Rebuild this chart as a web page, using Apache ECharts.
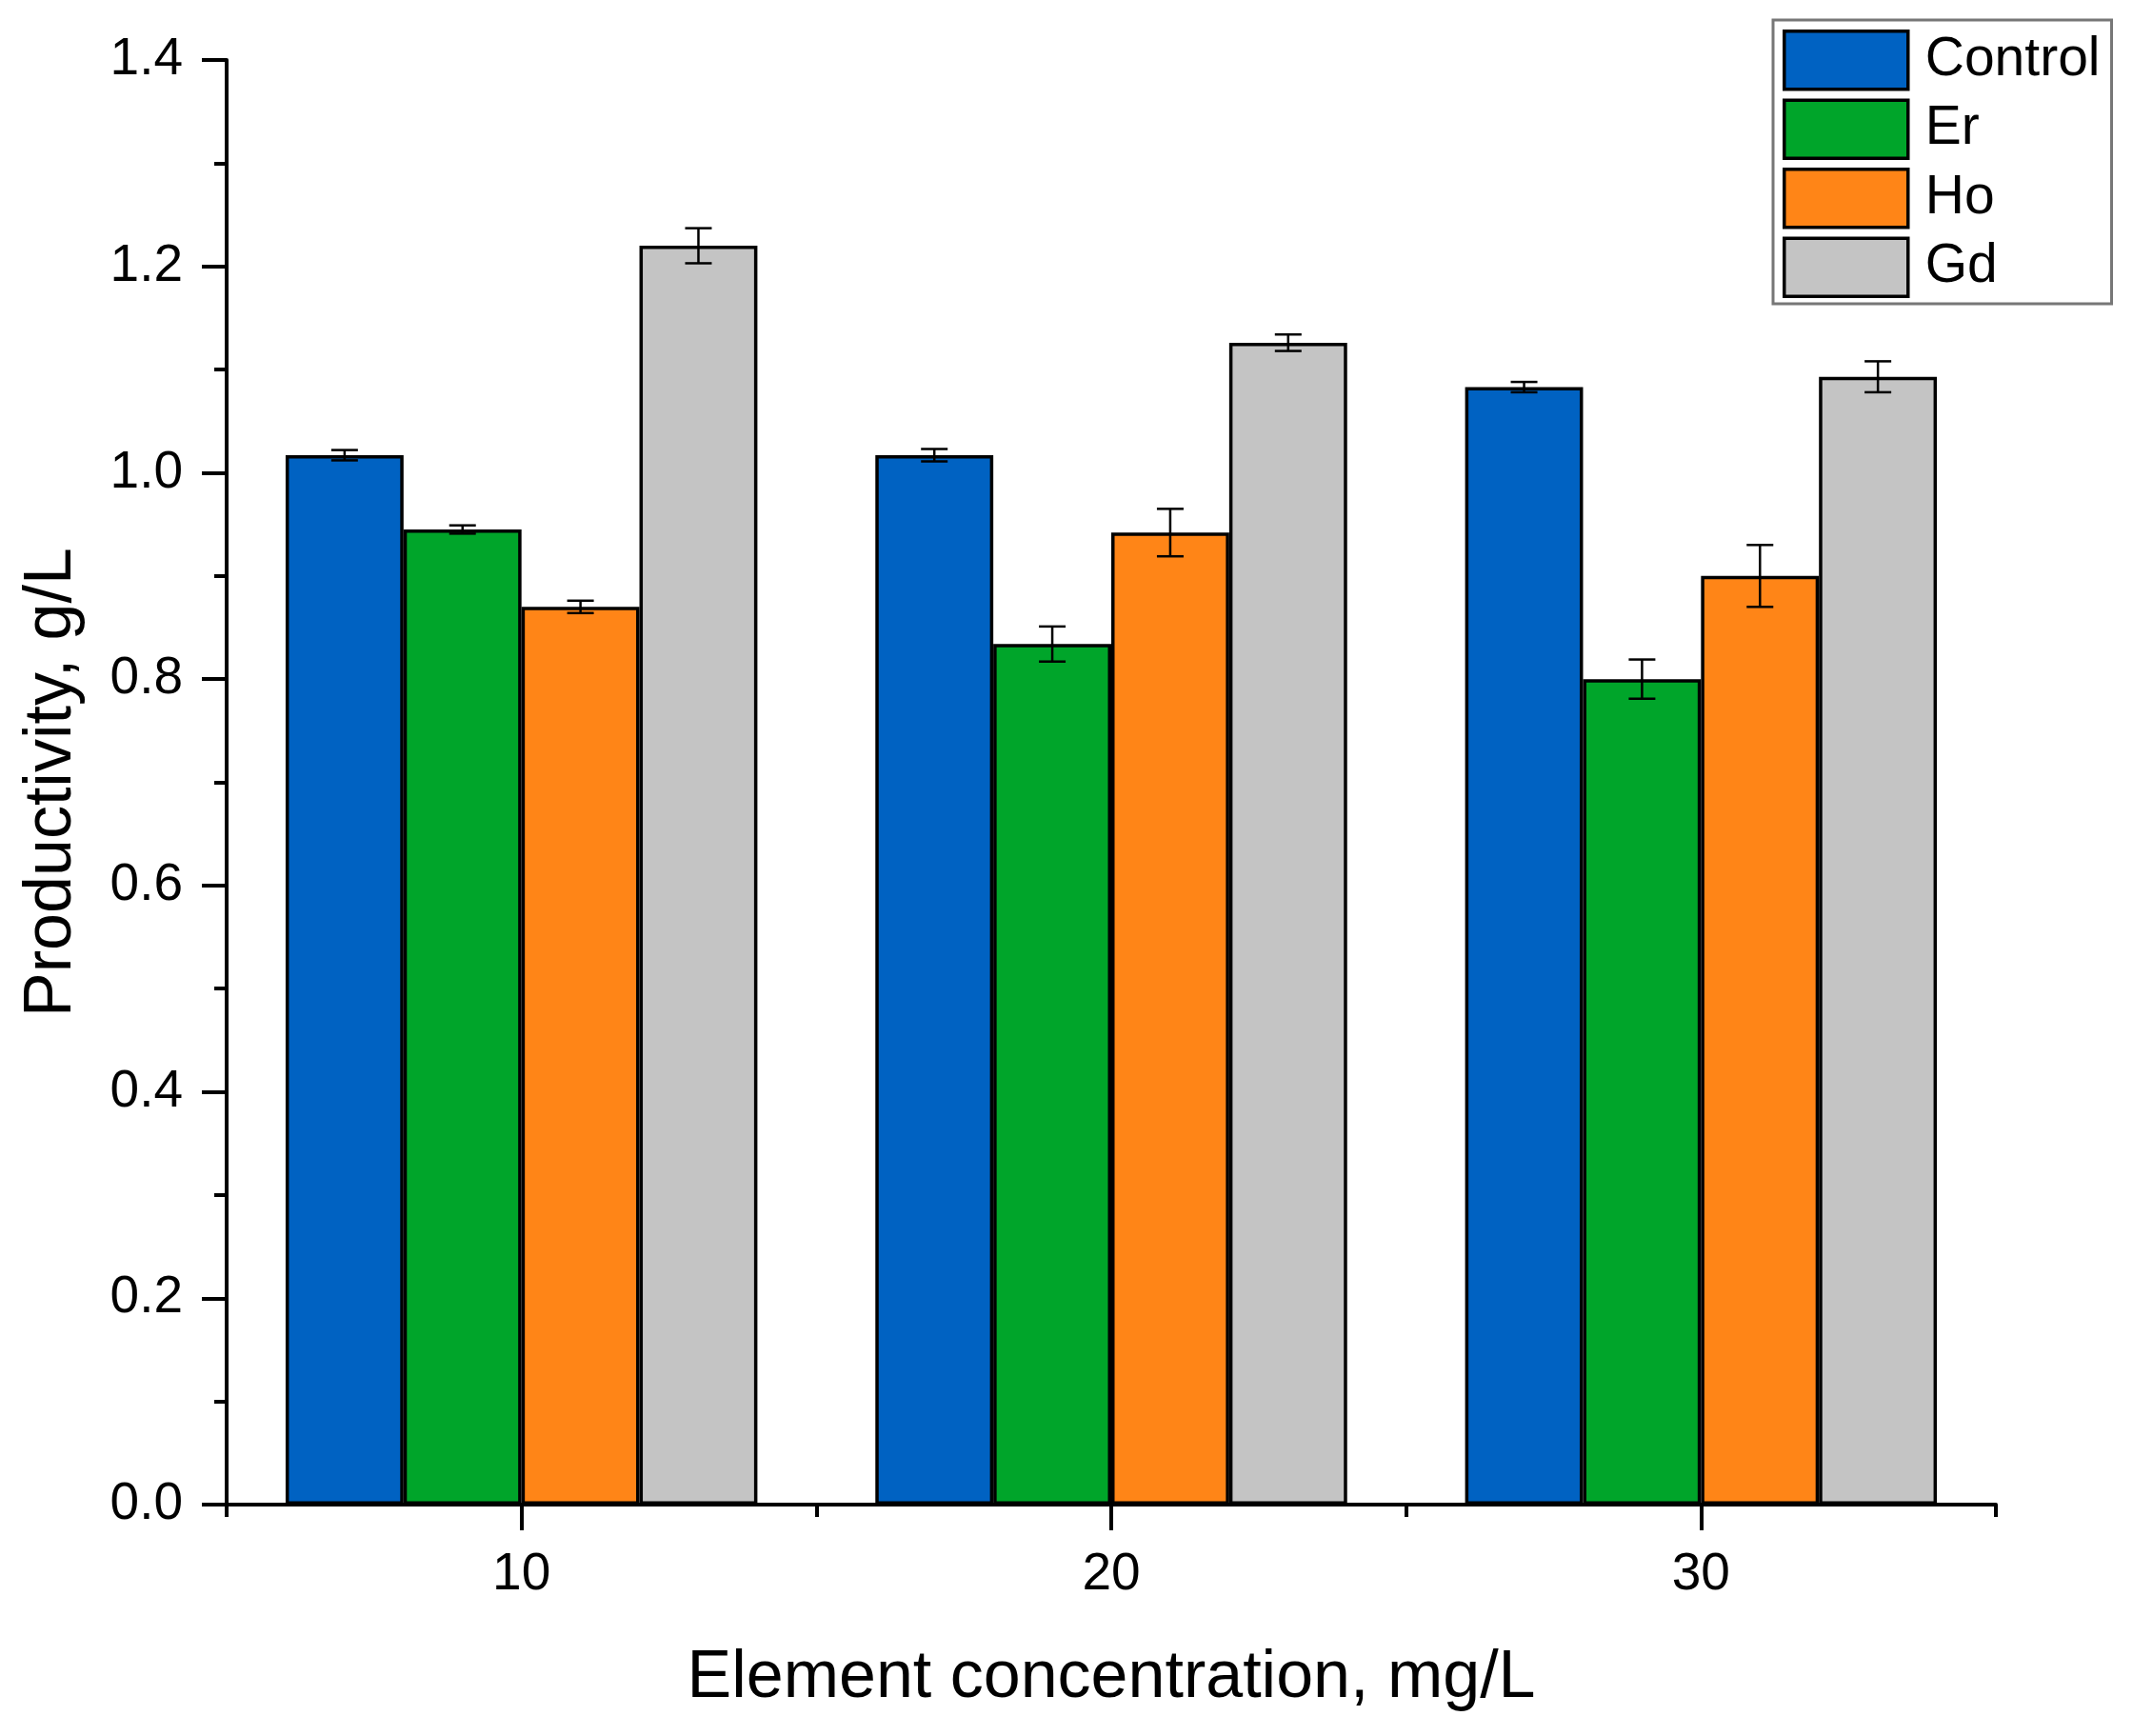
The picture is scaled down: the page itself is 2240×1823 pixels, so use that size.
<!DOCTYPE html>
<html>
<head>
<meta charset="utf-8">
<style>
  html, body { margin: 0; padding: 0; background: #fff; }
  #chart { width: 2240px; height: 1823px; }
</style>
<script src="https://cdn.jsdelivr.net/npm/echarts@6/dist/echarts.min.js"></script>
</head>
<body>
<div id="chart"></div>
<script>
// ---- data ----
const categories = ['10', '20', '30'];
const seriesNames = ['Control', 'Er', 'Ho', 'Gd'];
const controlValues = [1.017, 1.017, 1.083];
const controlErrors = [0.005, 0.006, 0.005];
const erValues = [0.945, 0.834, 0.800];
const erErrors = [0.004, 0.017, 0.019];
const hoValues = [0.870, 0.942, 0.900];
const hoErrors = [0.006, 0.023, 0.030];
const gdValues = [1.220, 1.126, 1.093];
const gdErrors = [0.017, 0.008, 0.015];
const yTicks = { min: 0, max: 1.4, interval: 0.2 };

const colors = ['#0062C2', '#00A52A', '#FF8517', '#C4C4C4'];
const allValues = [controlValues, erValues, hoValues, gdValues];
const allErrors = [controlErrors, erErrors, hoErrors, gdErrors];

const FONT = '"Liberation Sans", Arial, sans-serif';
const nBars = seriesNames.length;
const catGap = 0.2;

function errorRender(idx) {
  return function (params, api) {
    const cat = api.value(0);
    const mean = api.value(1);
    const err = api.value(2);
    const band = api.size([1, 0])[0];
    const barW = band * (1 - catGap) / nBars;
    const cx = api.coord([cat, mean])[0] + (idx - (nBars - 1) / 2) * barW;
    const yTop = api.coord([cat, mean + err])[1];
    const yBot = api.coord([cat, mean - err])[1];
    const cap = 14;
    const st = { stroke: '#000', lineWidth: 2.5 };
    return {
      type: 'group',
      children: [
        { type: 'line', shape: { x1: cx, y1: yTop, x2: cx, y2: yBot }, style: st },
        { type: 'line', shape: { x1: cx - cap, y1: yTop, x2: cx + cap, y2: yTop }, style: st },
        { type: 'line', shape: { x1: cx - cap, y1: yBot, x2: cx + cap, y2: yBot }, style: st }
      ]
    };
  };
}

const series = [];
seriesNames.forEach(function (name, i) {
  series.push({
    name: name,
    type: 'bar',
    xAxisIndex: 0,
    data: allValues[i],
    barGap: '0%',
    barCategoryGap: (catGap * 100) + '%',
    itemStyle: { color: colors[i], borderColor: '#000', borderWidth: 3.5 },
    z: 2
  });
});
seriesNames.forEach(function (name, i) {
  series.push({
    name: name + ' err',
    type: 'custom',
    xAxisIndex: 0,
    renderItem: errorRender(i),
    encode: { x: 0, y: 1 },
    data: allValues[i].map(function (v, k) { return [k, v, allErrors[i][k]]; }),
    z: 5,
    silent: true
  });
});

const chart = echarts.init(document.getElementById('chart'));
chart.setOption({
  animation: false,
  backgroundColor: '#fff',
  grid: { left: 238, right: 144, top: 63, bottom: 243, containLabel: false },
  legend: {
    data: seriesNames,
    orient: 'vertical',
    left: 1862,
    top: 21,
    itemWidth: 130,
    itemHeight: 61,
    itemGap: 8,
    padding: [10, 12, 6, 10],
    borderColor: '#777',
    borderWidth: 3,
    icon: 'rect',
    itemStyle: { borderColor: '#000', borderWidth: 3.5 },
    textStyle: { fontFamily: FONT, fontSize: 57, lineHeight: 61, color: '#000', padding: [0, 0, 0, 13] },
    selectedMode: false
  },
  xAxis: [
    {
      type: 'category',
      data: categories,
      name: 'Element concentration, mg/L',
      nameLocation: 'middle',
      nameGap: 148,
      nameTextStyle: { fontFamily: FONT, fontSize: 70, color: '#000' },
      axisLine: { show: true, lineStyle: { color: '#000', width: 4 } },
      axisTick: { show: true, alignWithLabel: true, length: 27, lineStyle: { color: '#000', width: 4 } },
      axisLabel: { fontFamily: FONT, fontSize: 55, color: '#000', margin: 46 },
      splitLine: { show: false }
    },
    {
      type: 'category',
      data: categories,
      position: 'bottom',
      axisLine: { show: false },
      axisTick: { show: true, length: 13, lineStyle: { color: '#000', width: 4 } },
      axisLabel: { show: false },
      splitLine: { show: false }
    }
  ],
  yAxis: {
    type: 'value',
    min: yTicks.min,
    max: yTicks.max,
    interval: yTicks.interval,
    name: 'Productivity, g/L',
    nameLocation: 'middle',
    nameGap: 148,
    nameRotate: 90,
    nameTextStyle: { fontFamily: FONT, fontSize: 70, color: '#000' },
    axisLine: { show: true, lineStyle: { color: '#000', width: 4 } },
    axisTick: { show: true, length: 26, lineStyle: { color: '#000', width: 4 } },
    minorTick: { show: true, splitNumber: 2, length: 13, lineStyle: { color: '#000', width: 4 } },
    axisLabel: {
      fontFamily: FONT, fontSize: 55, color: '#000', margin: 46,
      formatter: function (v) { return v.toFixed(1); }
    },
    splitLine: { show: false }
  },
  series: series
});
</script>
</body>
</html>
